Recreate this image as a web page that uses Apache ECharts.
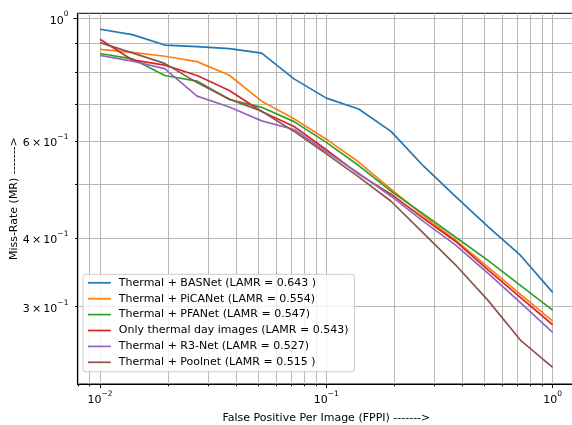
<!DOCTYPE html>
<html>
<head>
<meta charset="utf-8">
<script src="https://cdn.jsdelivr.net/npm/echarts@6/dist/echarts.min.js"></script>
<style>
html,body{margin:0;padding:0;background:#fff;}
#c{width:572px;height:425px;}
</style>
</head>
<body>
<div id="c"></div>
<script>
// FPPI sample points (x)
var fppi = [0.01, 0.01389, 0.01931, 0.02683, 0.03728, 0.05179, 0.07197, 0.1, 0.1389, 0.1931, 0.2683, 0.3728, 0.5179, 0.7197, 1.0];

// Miss-rate values per method
var basnet  = [0.956, 0.935, 0.895, 0.889, 0.882, 0.865, 0.777, 0.717, 0.685, 0.624, 0.540, 0.475, 0.419, 0.372, 0.3185];
var picanet = [0.879, 0.868, 0.854, 0.835, 0.789, 0.708, 0.658, 0.604, 0.549, 0.490, 0.439, 0.396, 0.354, 0.316, 0.2825];
var pfanet  = [0.864, 0.845, 0.788, 0.770, 0.713, 0.690, 0.650, 0.596, 0.541, 0.486, 0.442, 0.401, 0.364, 0.328, 0.2958];
var onlyDay = [0.917, 0.841, 0.823, 0.788, 0.740, 0.678, 0.637, 0.578, 0.522, 0.480, 0.434, 0.394, 0.350, 0.312, 0.2782];
var r3net   = [0.857, 0.837, 0.811, 0.723, 0.691, 0.652, 0.629, 0.573, 0.524, 0.476, 0.4285, 0.388, 0.345, 0.305, 0.2696];
var poolnet = [0.904, 0.866, 0.829, 0.765, 0.714, 0.679, 0.624, 0.568, 0.516, 0.466, 0.408, 0.357, 0.308, 0.261, 0.2328];

var seriesNames = [
  'Thermal + BASNet (LAMR = 0.643 )',
  'Thermal + PiCANet (LAMR = 0.554)',
  'Thermal + PFANet (LAMR = 0.547)',
  'Only thermal day images (LAMR = 0.543)',
  'Thermal + R3-Net (LAMR = 0.527)',
  'Thermal + Poolnet (LAMR = 0.515 )'
];
var seriesValues = [basnet, picanet, pfanet, onlyDay, r3net, poolnet];
var colors = ['#1f77b4', '#ff7f0e', '#2ca02c', '#d62728', '#9467bd', '#8c564b'];

// Axis ticks
var xMajorTicks = [0.01, 0.1, 1];
var xMajorLabels = ['10|−2', '10|−1', '10|0'];
var xMinorTicks = [0.008, 0.009, 0.02, 0.03, 0.04, 0.05, 0.06, 0.07, 0.08, 0.09, 0.2, 0.3, 0.4, 0.5, 0.6, 0.7, 0.8, 0.9];
var yMajorTicks = [1];
var yMinorTicks = [0.3, 0.4, 0.5, 0.6, 0.7, 0.8, 0.9];
var yLabelValues = [1, 0.6, 0.4, 0.3];
var yLabelTexts = ['|10|0', '6\u2009×\u2009|10|−1', '4\u2009×\u2009|10|−1', '3\u2009×\u2009|10|−1'];

var xMin = Math.pow(10, -2.1), xMax = Math.pow(10, 0.1);
var yMin = 0.2172, yMax = 1.0219;

function findLabel(vals, texts, v) {
  for (var i = 0; i < vals.length; i++) {
    if (Math.abs(vals[i] - v) / vals[i] < 1e-3) return texts[i];
  }
  return '';
}
function richText(t) {
  var p = t.split('|');
  if (p.length === 2) return '{a|' + p[0] + '}{s|' + p[1] + '}';
  return (p[0] ? '{m|' + p[0] + '}' : '') + '{a|' + p[1] + '}{s|' + p[2] + '}';
}
var rich = {
  a: {fontSize: 11, fontFamily: 'DejaVu Sans', color: '#000', lineHeight: 16, verticalAlign: 'bottom'},
  m: {fontSize: 11, fontFamily: 'DejaVu Sans', color: '#000', lineHeight: 16, verticalAlign: 'bottom'},
  s: {fontSize: 7.5, fontFamily: 'DejaVu Sans', color: '#000', lineHeight: 16, verticalAlign: 'top'}
};
var gridLine = {show: true, lineStyle: {color: '#b7b7b7', width: 1}};

var series = seriesValues.map(function (vals, i) {
  return {
    name: seriesNames[i],
    type: 'line',
    data: fppi.map(function (x, j) { return [x, vals[j]]; }),
    symbol: 'none',
    lineStyle: {color: colors[i], width: 1.7},
    itemStyle: {color: colors[i]},
    emphasis: {disabled: true},
    clip: true
  };
});

var chart = echarts.init(document.getElementById('c'), null, {renderer: 'canvas'});
chart.setOption({
  animation: false,
  backgroundColor: '#fff',
  grid: {left: 77.4, top: 13.3, width: 497.9, height: 370.7, containLabel: false, outerBoundsMode: 'none',
         show: true, borderColor: '#000', borderWidth: 1, backgroundColor: 'transparent'},
  legend: {
    orient: 'vertical', left: 83, top: 274.3,
    itemWidth: 23, itemHeight: 12, itemGap: 4.9,
    padding: [3, 6, 4, 4],
    backgroundColor: 'rgba(255,255,255,0.8)', borderColor: '#cccccc', borderWidth: 1, borderRadius: 3,
    itemStyle: {opacity: 0},
    lineStyle: {width: 1.7},
    textStyle: {fontFamily: 'DejaVu Sans', fontSize: 11, color: '#000', padding: [0, 0, 0, 3]},
    data: seriesNames.map(function (n) { return {name: n}; }),
    selectedMode: false
  },
  xAxis: [{
    type: 'log', logBase: 10, min: xMin, max: xMax, position: 'bottom',
    name: 'False Positive Per Image (FPPI) ------->', nameLocation: 'middle', nameGap: 29, nameMoveOverlap: false,
    nameTextStyle: {fontFamily: 'DejaVu Sans', fontSize: 11, color: '#000'},
    axisLine: {show: true, lineStyle: {color: '#000', width: 1}},
    axisTick: {show: true, customValues: xMajorTicks, length: 4, lineStyle: {color: '#000'}},
    axisLabel: {show: true, customValues: xMajorTicks, margin: 6, rich: rich,
      formatter: function (v) { return richText(findLabel(xMajorTicks, xMajorLabels, v)); }},
    splitLine: gridLine
  }, {
    type: 'log', logBase: 10, min: xMin, max: xMax, position: 'bottom', offset: 0,
    axisLine: {show: false},
    axisTick: {show: true, customValues: xMinorTicks, length: 2.3, lineStyle: {color: '#000'}},
    axisLabel: {show: false},
    splitLine: gridLine
  }],
  yAxis: [{
    type: 'log', logBase: 10, min: yMin, max: yMax, position: 'left',
    name: 'Miss-Rate (MR) ------->', nameLocation: 'middle', nameGap: 58, nameMoveOverlap: false,
    nameTextStyle: {fontFamily: 'DejaVu Sans', fontSize: 11, color: '#000'},
    axisLine: {show: true, lineStyle: {color: '#000', width: 1}},
    axisTick: {show: true, customValues: yMajorTicks, length: 4, lineStyle: {color: '#000'}},
    axisLabel: {show: true, customValues: yLabelValues, margin: 9, rich: rich,
      formatter: function (v) { return richText(findLabel(yLabelValues, yLabelTexts, v)); }},
    splitLine: gridLine
  }, {
    type: 'log', logBase: 10, min: yMin, max: yMax, position: 'left', offset: 0,
    axisLine: {show: false},
    axisTick: {show: true, customValues: yMinorTicks, length: 2.3, lineStyle: {color: '#000'}},
    axisLabel: {show: false},
    splitLine: gridLine
  }],
  series: series
});
</script>
</body>
</html>
